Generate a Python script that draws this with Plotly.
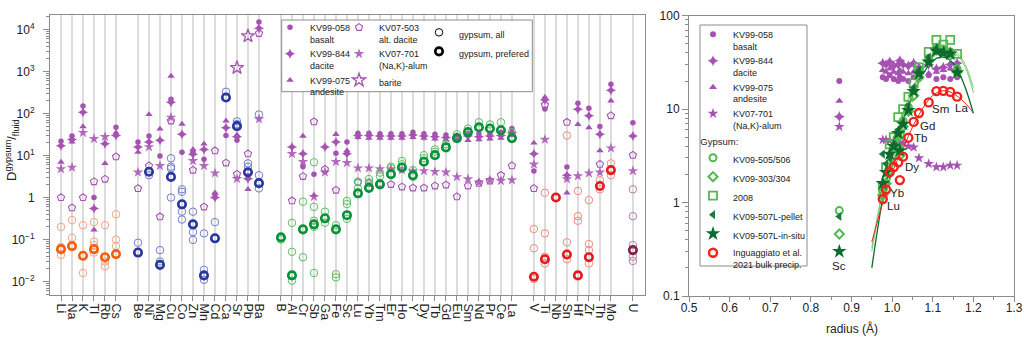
import math
import plotly.graph_objects as go

FONT = "Liberation Sans, Arial, Helvetica, sans-serif"
PURPLE = "#A652B3"
W, H = 1024, 337

# ---------------- left panel data ----------------
groups = [
    ["Li", "Na", "K", "Tl", "Rb", "Cs"],
    ["Be", "Ni", "Mg", "Cu", "Co", "Zn", "Mn", "Cd", "Ca", "Sr", "Pb", "Ba"],
    ["B", "Al", "Cr", "Sb", "Ga", "Fe", "Sc", "Lu", "Yb", "Tm", "Er", "Ho", "Y", "Dy",
     "Tb", "Gd", "Eu", "Sm", "Nd", "Pr", "Ce", "La"],
    ["V", "Ti", "Nb", "Sn", "Hf", "Zr", "Th", "Mo"],
    ["U"],
]
elements = [e for g in groups for e in g]

basalt = [22, 29, 150, 1.0, None, 47,
          21, 29, 9.7, 220, 12, 12, 8.2, 1.2, 30, 23, 3.3, 15000,
          None, None, 5.4, 3.6, None, 11.3, 21, 34, 34, 33, 33, 33, 36, 33, 32, 31, 30, 34, 33, 33, 36, 44,
          4.3, 128, None, 5.3, 175, 133, 49, 500,
          60]
dacite = [17, 24, 107, 0.55, 19, 30,
          16, 21, 23, 185, 32, 10.7, 14, 1.0, 46, 28, 2.8, 10700,
          None, 16, 11, None, 16, 21, 11, 30, 30, 29, 29, 29, 31, 29, 28, 27, 27, 29, 28, 29, 30, 35,
          11, 210, None, 3.4, 126, 89, 32, 360,
          29]
andesite = [7, 21, 49, 0.17, 6.5, 35,
            12, 95, 43, 780, 56, 14, 19, 1.3, 67, 31, 1.57, 40000,
            None, None, 29, 1.14, None, 32, 13, 27, 26, 26, 26, 26, 27, 26, 25, 24, 24, 23, 24, 25, 26, 30,
            20, 245, None, 1.3, 55, 46, 13, 200,
            None]
alt_dacite = [1.0, 0.57, 1.0, 2.4, 2.75, 9.4,
              1.65, 5.7, 0.35, 67, None, 4.5, 0.6, 13, 6.7, 3.6, 11, 8100,
              None, 0.84, 3.2, 64, 4.7, 1.5, None, 2.3, 2.2, 2.2, 2.06, 1.8, 1.7, 1.7, 1.9, 2.0, 1.05, 1.9, 2.2, 2.5, 3.4, 5.7,
              1.65, 160, None, 62, None, None, 6.2, 89,
              10.2]
alum = [4.8, 5.2, 35, 25, 28, None,
        4, 16, 5.7, 81, None, 7.5, 5.7, 3.8, None, 2.8, None, 74,
        None, 11, 7.1, 1.05, 4, 7.1, 6.7, 5, 5, 4.8, 4.8, 4.5, 4.3, 4.3, 4.1, 4, 3.1, 2.75, 2.3, 2.6, 2.5, 2.6,
        6.2, 24, None, 2.75, 3.25, 3.8, 4, 15,
        4.3]
barite_elem = ["Sr", "Pb", "Ba"]
barite_val = [1230, 7000, 24000]

gyp_pref = [0.059, 0.07, 0.041, 0.059, 0.038, 0.045,
            0.049, 4.1, 0.025, 3.1, 0.69, 0.23, 0.014, 0.107, 240, 50, 4.0, 2.2,
            0.112, 0.014, 0.175, 0.23, 0.32, 0.175, 0.38, 1.26, 1.7, 2.06, 3.6, 5.2, 3.4, 7.1, 10.2, 15.6, 26, 36, 47, 44, 40, 26,
            0.013, 0.034, 1.0, 0.044, 0.014, 0.038, 1.88, 4.5,
            0.056]
gyp_all = [[0.2, 0.066, 0.043], [0.29, 0.11, 0.065], [0.22, 0.016], [0.26, 0.089, 0.074, 0.049],
           [0.22, 0.03, 0.023], [0.4, 0.1, 0.07],
           [0.084], [4.1, 3.4], [0.056, 0.03], [8.6, 5.4, 4.9, 1.0], [1.57, 1.37, 0.46, 0.3],
           [0.46, 0.15, 0.098], [0.14, 0.019, 0.011], [0.26], [330], [65, 56], [6.5, 5.4], [95, 3.4, 1.65],
           [0.12, 0.10], [0.25, 0.051, 0.0105], [0.8, 0.038], [6.9, 0.6, 0.28, 0.2, 0.016], [0.46, 0.25],
           [0.22, 0.015, 0.0126], [0.83, 0.7, 0.31], [2.4, 1.65], [2.75, 2.3], [3.9, 3.2], [5.4, 5.0],
           [7.4, 6.2], [4.5, 3.1], [10.2, 8.6], [14, 12.3], [18.5], [32], [44], [62], [55], [62], [36],
           [0.178, 0.062, 0.0115], [1.3, 0.14, 0.039, 0.027], [], [30, 0.086, 0.034], [1.43, 0.36, 0.28],
           [0.87, 0.078, 0.056, 0.027], [2.6, 1.57], [6.5, 3.4],
           [1.57, 0.36, 0.074, 0.039, 0.031]]

# ---------------- right panel data ----------------
ree = ["Lu", "Yb", "Tm", "Er", "Ho", "Y", "Dy", "Tb", "Gd", "Eu", "Sm", "Nd", "Pr", "Ce", "La"]
radius = [0.977, 0.985, 0.994, 1.004, 1.015, 1.019, 1.027, 1.040, 1.053, 1.066, 1.090, 1.109, 1.126, 1.143, 1.160]
sc_radius = 0.87

r_basalt = [22, 21, 23, 21, 20, 22, 21, 20, 22, 21, 23, 21, 22, 21, 22]
r_dacite = [31, 30, 32, 29, 30, 33, 30, 29, 31, 28, 30, 27, 28, 30, 31]
r_andesite = [26, 25, 27, 25, 24, 26, 25, 24, 25, 26, 24, 25, 26, 27, 28]
r_alum = [4.7, 4.7, 4.6, 4.6, 4.4, 4.3, 4.3, 4.0, 3.9, 3.0, 2.6, 2.4, 2.4, 2.5, 2.5]
sc_purple = {"basalt": 20, "dacite": 8.3, "andesite": 12.2, "alum": 6.5}

g_circ505 = [1.3, 1.8, 2.6, 3.8, 5.6, 3.8, 7.5, 10.5, 16, 25, 35, 46, 44, 41, 27]
g_diam303 = [1.2, 1.6, 2.2, 3.3, 5.0, 3.2, 6.5, 9.5, 14, 22, 33, 43, 41, 38, 25]
g_sq2008 = [1.5, 2.4, 4.2, 5.0, 8.2, 5.5, 10, 13.5, 19, 28, 41, 55, 49, 55, 39]
g_pellet = [3.3, 2.6, 3.0, 4.2, 6.0, 3.5, 7.2, 11, 17, 26, 36, 45, 42, 40, 25]
g_insitu = [1.6, 2.1, 3.3, 4.0, 5.5, 3.6, 6.9, 9.7, 15.5, 24, 32, 42, 40, 39, 24.6]
sc_green = {"circ505": 0.82, "diam303": 0.46, "pellet": 0.71, "insitu": 0.3}
ingua = [1.09, 1.38, 2.12, 2.4, 2.7, 1.74, 3.1, 4.95, 7.3, 9.1, 11.8, 15.6, 15.7, 15.3, 13.6]
ingua_labels = {"Lu": (3, -7), "Yb": (3, -3), "Dy": (1, -10), "Tb": (5, 0), "Gd": (5, -4),
                "Sm": (2, -7), "La": (-3, -11)}

fit_r = [0.95, 0.977, 1.0, 1.027, 1.053, 1.079, 1.10, 1.12, 1.14, 1.16, 1.18, 1.2]
fit_red = [0.38, 1.0, 2.1, 3.8, 6.8, 10.8, 14.0, 15.6, 15.4, 13.8, 11.6, 9.1]
fit_dark = [0.2, 1.1, 3.0, 7.5, 15, 25, 33, 36, 34, 27, 17, 9]
fit_light1 = [0.33, 1.4, 3.6, 9, 18, 29, 37, 42, 43, 40, 30, 17]
fit_light2 = [0.3, 1.3, 3.4, 8.5, 17, 28, 36, 41, 42, 38, 28, 15]

# ---------------- styling ----------------
gyp_colors = [("#F7A27E", "#F2600F"), ("#707CCF", "#28379C"), ("#5DBE62", "#06923A"),
              ("#F28A80", "#E8181C"), ("#B3809C", "#80214E")]
GREEN_L = "#55B94F"
GREEN_D = "#0D6B30"
RED = "#F0221A"
LEG_FS = 9

slot = {}
group_of = {}
p = 0
for gi, g in enumerate(groups):
    for e in g:
        slot[e] = p
        group_of[e] = gi
        p += 1
    p += 1

fig = go.Figure()


def series(vals):
    xs, ys = [], []
    for e, v in zip(elements, vals):
        if v is not None:
            xs.append(slot[e])
            ys.append(v)
    return xs, ys


def add_left(vals, name, marker, legend, rank, clip=True):
    xs, ys = series(vals)
    fig.add_trace(go.Scatter(x=xs, y=ys, mode="markers", name=name, marker=marker, legendrank=rank,
                             legend=legend, xaxis="x", yaxis="y", cliponaxis=clip))


add_left(alt_dacite, "KV07-503<br>alt. dacite",
         dict(symbol="pentagon-open", size=7.5, color=PURPLE, line=dict(width=1.1)), "legend2", 1)
add_left(alum, "KV07-701<br>(Na,K)-alum", dict(symbol="star", size=8, color=PURPLE, opacity=0.85), "legend2", 2)
fig.add_trace(go.Scatter(x=[slot[e] for e in barite_elem], y=barite_val, mode="markers", name="barite",
                         marker=dict(symbol="star-open", size=10, color=PURPLE, line=dict(width=1.3)),
                         legend="legend2", legendrank=3, xaxis="x", yaxis="y", cliponaxis=False))
add_left(basalt, "KV99-058<br>basalt", dict(symbol="circle", size=5.5, color=PURPLE), "legend", 1)
add_left(dacite, "KV99-844<br>dacite", dict(symbol="star-diamond", size=7.5, color=PURPLE), "legend", 2)
add_left(andesite, "KV99-075<br>andesite", dict(symbol="triangle-up", size=6.5, color=PURPLE), "legend", 3,
         clip=False)

for gi in range(len(groups)):
    xs, ys = [], []
    for e, vals in zip(elements, gyp_all):
        if group_of[e] == gi:
            for v in vals:
                xs.append(slot[e])
                ys.append(v)
    fig.add_trace(go.Scatter(x=xs, y=ys, mode="markers", showlegend=False,
                             marker=dict(symbol="circle-open", size=7.5, color=gyp_colors[gi][0],
                                         line=dict(width=1)), xaxis="x", yaxis="y"))
for gi in range(len(groups)):
    xs, ys = [], []
    for e, v in zip(elements, gyp_pref):
        if group_of[e] == gi and v is not None:
            xs.append(slot[e])
            ys.append(v)
    fig.add_trace(go.Scatter(x=xs, y=ys, mode="markers", showlegend=False,
                             marker=dict(symbol="circle-open", size=7.5, color=gyp_colors[gi][1],
                                         line=dict(width=2.6)), xaxis="x", yaxis="y"))

fig.add_trace(go.Scatter(x=[None], y=[None], mode="markers", name="gypsum, all", legend="legend3",
                         legendrank=1,
                         marker=dict(symbol="circle-open", size=7.5, color="black", line=dict(width=1)),
                         xaxis="x", yaxis="y"))
fig.add_trace(go.Scatter(x=[None], y=[None], mode="markers", name="gypsum, prefered", legend="legend3",
                         legendrank=2,
                         marker=dict(symbol="circle-open", size=7.5, color="black", line=dict(width=2.6)),
                         xaxis="x", yaxis="y"))

# ---------------- right panel traces ----------------
for name, vals, sym, size, key, rk in [
    ("KV99-058<br>basalt", r_basalt, "circle", 6, "basalt", 1),
    ("KV99-844<br>dacite", r_dacite, "star-diamond", 8, "dacite", 2),
    ("KV99-075<br>andesite", r_andesite, "triangle-up", 7, "andesite", 3),
    ("KV07-701<br>(Na,K)-alum", r_alum, "star", 8, "alum", 4),
]:
    fig.add_trace(go.Scatter(x=[sc_radius] + radius, y=[sc_purple[key]] + vals, mode="markers", name=name,
                             marker=dict(symbol=sym, size=size, color=PURPLE), legend="legend4",
                             legendrank=rk, xaxis="x2", yaxis="y2"))

for vals, col, w in [(fit_light1, "#7CCB78", 1), (fit_light2, "#7CCB78", 1), (fit_dark, GREEN_D, 1.3),
                     (fit_red, RED, 1)]:
    fig.add_trace(go.Scatter(x=fit_r, y=vals, mode="lines", line=dict(color=col, width=w, shape="spline"),
                             showlegend=False, xaxis="x2", yaxis="y2"))

green_series = [
    ("KV09-505/506", g_circ505, sc_green["circ505"], dict(symbol="circle-open", size=7, color=GREEN_L,
                                                          line=dict(width=2))),
    ("KV09-303/304", g_diam303, sc_green["diam303"], dict(symbol="diamond-open", size=7, color=GREEN_L,
                                                          line=dict(width=2))),
    ("2008", g_sq2008, None, dict(symbol="square-open", size=8, color=GREEN_L, line=dict(width=1.8))),
    ("KV09-507L-pellet", g_pellet, sc_green["pellet"], dict(symbol="triangle-left", size=8, color="#1E7A38")),
    ("KV09-507L-in-situ", g_insitu, sc_green["insitu"], dict(symbol="star", size=11, color=GREEN_D)),
]
for i, (name, vals, scv, mk) in enumerate(green_series):
    xs = ([sc_radius] if scv is not None else []) + radius
    ys = ([scv] if scv is not None else []) + vals
    fig.add_trace(go.Scatter(x=xs, y=ys, mode="markers", name=name, marker=mk, legend="legend5",
                             legendrank=i + 1, xaxis="x2", yaxis="y2"))
fig.add_trace(go.Scatter(x=radius, y=ingua, mode="markers", name="Inguaggiato et al.<br>2021 bulk precip.",
                         marker=dict(symbol="circle-open", size=8, color=RED, line=dict(width=2.4)),
                         legend="legend5", legendrank=10, xaxis="x2", yaxis="y2"))

lab_font = dict(family=FONT, size=12, color="#222")
ree_font = dict(family=FONT, size=11.5, color="#222")
annotations = []
for e, (dx, dy) in ingua_labels.items():
    i = ree.index(e)
    annotations.append(dict(x=radius[i], y=math.log10(ingua[i]), xref="x2", yref="y2", text=e,
                            showarrow=False, xanchor="left", yanchor="middle", xshift=dx, yshift=dy,
                            borderpad=0, font=ree_font))
annotations.append(dict(x=sc_radius, y=math.log10(sc_green["insitu"]), xref="x2", yref="y2", text="Sc",
                        showarrow=False, xanchor="center", yanchor="top", yshift=-7, font=ree_font))
annotations.append(dict(x=12 / W, y=1 - 150 / H, xref="paper", yref="paper", textangle=-90,
                        xanchor="center", yanchor="middle",
                        text="D<sup>gypsum</sup>/<sub>fluid</sub>", showarrow=False,
                        font=dict(family=FONT, size=13, color="#222")))
annotations.append(dict(x=851.5 / W, y=1 - 328 / H, xref="paper", yref="paper", text="radius (Å)",
                        xanchor="center", yanchor="middle", showarrow=False, font=lab_font))

# ---------------- axes ----------------
AX = "#8c8c8c"
tick_font = dict(family=FONT, size=12, color="#222")
left_ticks = [1e-2, 1e-1, 1, 10, 100, 1e3, 1e4]
left_text = ["10<sup>−2</sup>", "10<sup>−1</sup>", "1", "10<sup>1</sup>", "10<sup>2</sup>",
             "10<sup>3</sup>", "10<sup>4</sup>"]
minor_left = [m * 10 ** k for k in range(-3, 5) for m in range(2, 10)]
minor_right = [m * 10 ** k for k in range(-2, 3) for m in range(2, 10)]

x1d = [50 / W, 645 / W]
y1d = [1 - 295 / H, 1 - 15 / H]
x2d = [689 / W, 1014 / W]
y2d = [1 - 296 / H, 1 - 15.7 / H]

fig.update_layout(
    width=W, height=H, margin=dict(l=0, r=0, t=0, b=0),
    paper_bgcolor="white", plot_bgcolor="white",
    font=dict(family=FONT, color="#222"),
    xaxis=dict(domain=x1d, range=[-1, 53.1], tickmode="array", tickvals=[slot[e] for e in elements],
               ticktext=elements, tickangle=90, tickfont=dict(family=FONT, size=12.5, color="#222"),
               showgrid=True, gridcolor="#DCDCDC", gridwidth=1.6, zeroline=False,
               showline=True, linecolor=AX, mirror=True, ticks="outside", ticklen=5, tickcolor=AX,
               automargin=False),
    yaxis=dict(domain=y1d, type="log", range=[-2.32, 4.345], tickmode="array", tickvals=left_ticks,
               ticktext=left_text, tickfont=tick_font, showgrid=False, zeroline=False,
               showline=True, linecolor=AX, mirror=True, ticks="outside", ticklen=6, tickcolor=AX,
               ticklabelstandoff=6,
               minor=dict(tickmode="array", tickvals=minor_left, ticks="outside", ticklen=3, tickcolor=AX),
               automargin=False),
    xaxis2=dict(domain=x2d, range=[0.5, 1.3], tickmode="linear", tick0=0.5, dtick=0.1, tickformat=".1f",
                tickfont=tick_font, showgrid=False, zeroline=False, showline=True, linecolor=AX, mirror=True,
                ticks="outside", ticklen=5, tickcolor=AX, anchor="y2", ticklabelstandoff=-4,
                minor=dict(tickmode="linear", tick0=0.5, dtick=0.05, ticks="outside", ticklen=3, tickcolor=AX),
                automargin=False),
    yaxis2=dict(domain=y2d, type="log", range=[-1, 2], tickmode="array", tickvals=[0.1, 1, 10, 100],
                ticktext=["0.1", "1", "10", "100"], tickfont=tick_font, showgrid=False, zeroline=False,
                showline=True, linecolor=AX, mirror=True, ticks="outside", ticklen=6, tickcolor=AX,
                anchor="x2",
                minor=dict(tickmode="array", tickvals=minor_right, ticks="outside", ticklen=3, tickcolor=AX),
                automargin=False),
    annotations=annotations,
    showlegend=True,
)

leg_common = dict(font=dict(family=FONT, size=LEG_FS, color="#222"), bgcolor="rgba(0,0,0,0)",
                  borderwidth=0, valign="top", xanchor="left", yanchor="top", tracegroupgap=0,
                  itemwidth=30, traceorder="normal")
fig.update_layout(
    legend=dict(x=270 / W, y=1 - 15 / H, **leg_common),
    legend2=dict(x=339 / W, y=1 - 15 / H, **leg_common),
    legend3=dict(x=419 / W, y=1 - 20 / H, **leg_common),
    legend4=dict(x=693 / W, y=1 - 22 / H, **leg_common),
    legend5=dict(x=693 / W, y=1 - 133 / H,
                 title=dict(text="  Gypsum:", font=dict(family=FONT, size=LEG_FS + 0.5, color="#222")),
                 **leg_common),
)

shapes = [
    dict(type="line", xref="paper", yref="y", x0=x1d[0], x1=x1d[1], y0=0, y1=0,
         line=dict(color="#8c8c8c", width=1), layer="below"),
    dict(type="rect", xref="paper", yref="paper", x0=281.7 / W, x1=532.3 / W, y0=1 - 91.7 / H,
         y1=1 - 20 / H, fillcolor="white", line=dict(color="#8c8c8c", width=1), layer="above"),
    dict(type="rect", xref="paper", yref="paper", x0=700 / W, x1=807 / W, y0=1 - 266 / H,
         y1=1 - 25 / H, fillcolor="white", line=dict(color="#8c8c8c", width=1), layer="above"),
]
fig.update_layout(shapes=shapes)

fig.write_html("out.html", config={"displayModeBar": False},
               post_script="document.body.style.margin='0px';")
